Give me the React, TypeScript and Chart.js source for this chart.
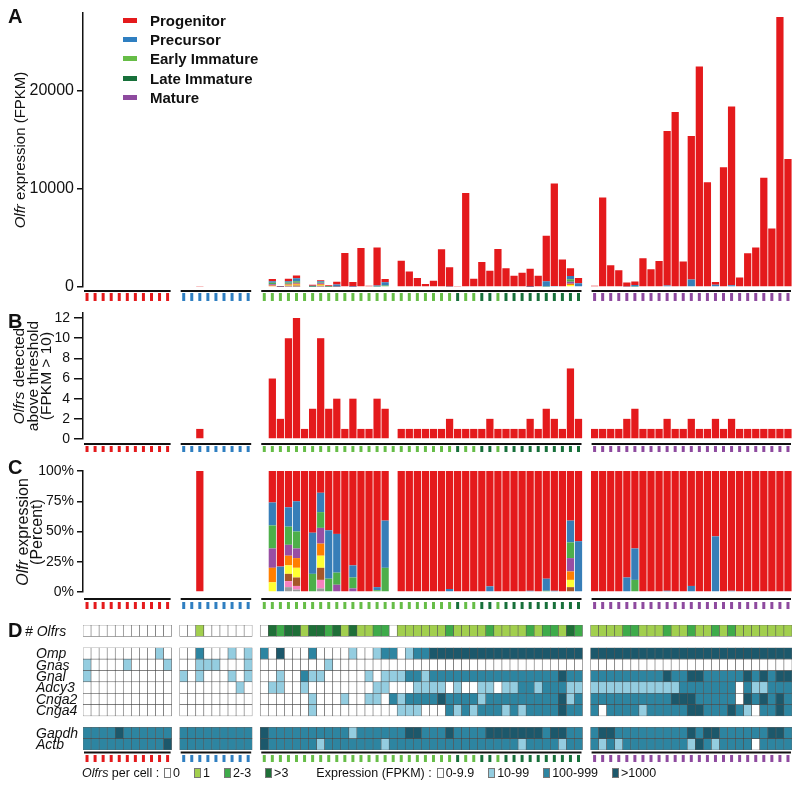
import React, { useEffect, useRef } from 'react';
import { Chart, registerables } from 'chart.js';

Chart.register(...registerables);

const FONT = '"Liberation Sans", Arial, Helvetica, sans-serif';
Chart.defaults.font.family = FONT;

// ---------- cell groups ----------
const GROUP_SIZES = [11, 9, 40, 25];
const CELL_TYPE_NAMES = ['Progenitor', 'Precursor', 'Early Immature', 'Late Immature', 'Mature'];
const CELL_TYPE_COLORS = ['#e41a1c', '#2f7fc1', '#66bd47', '#17703a', '#8e4a9f'];

// stage of each cell (index into CELL_TYPE_NAMES)
const cellStage = [
  0, 0, 0, 0, 0, 0, 0, 0, 0, 0, 0,
  1, 1, 1, 1, 1, 1, 1, 1, 1,
  2, 2, 2, 2, 2, 2, 2, 2, 2, 2, 2, 2, 2, 2, 2, 2, 2, 2, 2, 2,
  2, 2, 2, 2, 3, 2, 2, 3, 3, 2, 3, 3, 3, 3, 3, 3, 3, 3, 3, 3,
  4, 4, 4, 4, 4, 4, 4, 4, 4, 4, 4, 4, 4, 4, 4, 4, 4, 4, 4, 4, 4, 4, 4, 4, 4,
];

// ---------- panel A: total Olfr expression (FPKM) ----------
const olfrExpression = [
  0, 0, 0, 0, 0, 0, 0, 0, 0, 0, 0,
  0, 0, 60, 0, 0, 0, 0, 0, 0,
  0, 808, 100, 840, 1180, 80, 235, 700, 170, 540,
  3470, 505, 3970, 135, 4040, 808, 0, 2690, 1580, 910,
  300, 640, 3840, 2020, 60, 9600, 840, 2560, 1650, 3870,
  1920, 1145, 1450, 1850, 1145, 5220, 10570, 2800, 1920, 910,
  130, 9125, 2220, 1717, 470, 570, 2930, 1820, 2660, 15925,
  17845, 2590, 15420, 22490, 10700, 505, 12220, 18420, 976, 3434,
  4040, 11145, 5960, 27540, 13064,
];

// ---------- panel B: Olfrs detected above threshold ----------
const olfrsDetected = [
  0, 0, 0, 0, 0, 0, 0, 0, 0, 0, 0,
  0, 0, 1, 0, 0, 0, 0, 0, 0,
  0, 6, 2, 10, 12, 1, 3, 10, 3, 4,
  1, 4, 1, 1, 4, 3, 0, 1, 1, 1,
  1, 1, 1, 2, 1, 1, 1, 1, 2, 1,
  1, 1, 1, 2, 1, 3, 2, 1, 7, 2,
  1, 1, 1, 1, 2, 3, 1, 1, 1, 2,
  1, 1, 2, 1, 1, 2, 1, 2, 1, 1,
  1, 1, 1, 1, 1,
];

// ---------- panel C: share (%) of each detected Olfr, most abundant first ----------
const OLFR_COLORS = ['#e41a1c', '#377eb8', '#4daf4a', '#984ea3', '#ff7f00', '#ffff33', '#a65628', '#f781bf', '#999999'];
const olfrShares: number[][] = [
  [], [], [], [], [], [], [], [], [], [], [],
  [], [], [100], [], [], [], [], [], [],
  [], [26, 19, 19, 16, 12, 8], [79, 21], [30, 16, 15, 9, 8, 7, 6, 5, 4], [25, 25, 14, 8, 8, 8, 7, 3, 2],
  [100], [51, 34, 15], [18, 16, 13, 13, 10, 10, 10, 7, 3], [49, 40, 11], [52, 32, 10, 6],
  [100], [78, 10, 9, 3], [100], [100], [96, 2.5, 1.5], [41, 39, 20], [], [100], [100], [100],
  [100], [100], [100], [97.5, 2.5], [100], [100], [100], [100], [95.3, 4.7], [100],
  [100], [100], [100], [99, 1], [100], [89, 10, 1], [99, 1], [100], [41, 18, 13, 11, 7, 6, 4], [58, 42],
  [100], [100], [100], [100], [88, 12], [64, 26, 10], [100], [100], [100], [99, 1],
  [100], [100], [95, 5], [100], [100], [54, 46], [100], [99, 1], [100], [100],
  [100], [100], [100], [100], [100],
];

// ---------- panel D ----------
const OLFR_CLASS_LABELS = ['0', '1', '2-3', '>3'];
const OLFR_CLASS_COLORS = ['#ffffff', '#a2cf4e', '#3eab4a', '#1f6f38'];
const EXPR_LABELS = ['0-9.9', '10-99', '100-999', '>1000'];
const EXPR_COLORS = ['#ffffff', '#94cde0', '#2d85a1', '#1c586b'];

const olfrClass = [
  0, 0, 0, 0, 0, 0, 0, 0, 0, 0, 0,
  0, 0, 1, 0, 0, 0, 0, 0, 0,
  0, 3, 2, 3, 3, 1, 3, 3, 2, 3, 1, 3, 1, 1, 2, 2, 0, 1, 1, 1,
  1, 1, 1, 2, 1, 1, 1, 1, 2, 1, 1, 1, 1, 2, 1, 2, 2, 1, 3, 2,
  1, 1, 1, 1, 2, 2, 1, 1, 1, 2, 1, 1, 2, 1, 1, 2, 1, 2, 1, 1, 1, 1, 1, 1, 1,
];
const omp = [
  0, 0, 0, 0, 0, 0, 0, 0, 0, 1, 0,
  0, 0, 2, 0, 0, 0, 1, 0, 1,
  2, 0, 3, 0, 0, 0, 2, 0, 0, 0, 0, 1, 0, 0, 1, 2, 2, 0, 1, 2,
  2, 3, 3, 3, 3, 3, 3, 3, 3, 3, 3, 3, 3, 3, 3, 3, 3, 3, 3, 3,
  3, 3, 3, 3, 3, 3, 3, 3, 3, 3, 3, 3, 3, 3, 3, 3, 3, 3, 3, 3, 3, 3, 3, 3, 3,
];
const gnas = [
  1, 0, 0, 0, 0, 1, 0, 0, 0, 0, 1,
  0, 0, 1, 1, 1, 0, 0, 0, 1,
  0, 0, 0, 0, 0, 0, 0, 0, 1, 0, 0, 0, 0, 0, 0, 0, 0, 0, 0, 0,
  0, 0, 0, 0, 0, 0, 0, 0, 0, 0, 0, 0, 0, 0, 0, 0, 0, 0, 0, 0,
  0, 0, 0, 0, 0, 0, 0, 0, 0, 0, 0, 0, 0, 0, 0, 0, 0, 0, 0, 0, 0, 0, 0, 0, 0,
];
const gnal = [
  1, 0, 0, 0, 0, 0, 0, 0, 0, 0, 0,
  1, 0, 1, 0, 0, 0, 1, 0, 1,
  0, 0, 1, 0, 0, 2, 1, 1, 0, 0, 0, 0, 0, 1, 0, 1, 1, 1, 2, 2,
  1, 2, 2, 2, 2, 2, 2, 2, 2, 2, 2, 2, 2, 2, 2, 2, 2, 3, 2, 2,
  2, 2, 2, 2, 2, 2, 2, 2, 2, 3, 2, 2, 3, 3, 2, 2, 2, 2, 2, 3, 2, 3, 2, 3, 3,
];
const adcy3 = [
  0, 0, 0, 0, 0, 0, 0, 0, 0, 0, 0,
  0, 0, 0, 0, 0, 0, 0, 1, 0,
  0, 1, 1, 0, 0, 1, 0, 0, 0, 0, 0, 0, 0, 0, 1, 1, 0, 0, 0, 1,
  1, 1, 1, 0, 1, 0, 0, 1, 1, 0, 1, 1, 2, 2, 1, 2, 2, 2, 1, 1,
  1, 1, 1, 1, 1, 1, 1, 1, 1, 1, 1, 2, 2, 2, 2, 2, 2, 2, 0, 2, 1, 1, 2, 2, 2,
];
const cnga2 = [
  0, 0, 0, 0, 0, 0, 0, 0, 0, 0, 0,
  0, 0, 0, 0, 0, 0, 0, 0, 0,
  0, 0, 0, 0, 0, 0, 1, 0, 0, 0, 1, 0, 0, 1, 1, 0, 2, 1, 2, 2,
  2, 2, 3, 2, 2, 2, 2, 1, 2, 2, 2, 2, 2, 2, 2, 2, 2, 3, 1, 2,
  2, 2, 2, 2, 2, 2, 2, 2, 2, 2, 3, 3, 3, 2, 2, 2, 2, 2, 0, 3, 2, 3, 2, 3, 2,
];
const cnga4 = [
  0, 0, 0, 0, 0, 0, 0, 0, 0, 0, 0,
  0, 0, 0, 0, 0, 0, 0, 0, 0,
  0, 0, 0, 0, 0, 0, 1, 0, 0, 0, 0, 0, 0, 0, 0, 0, 0, 1, 1, 1,
  0, 0, 0, 2, 1, 2, 1, 2, 2, 2, 1, 2, 1, 2, 2, 2, 2, 3, 2, 2,
  2, 0, 2, 2, 2, 2, 1, 2, 2, 2, 2, 2, 3, 3, 2, 2, 2, 3, 2, 1, 0, 2, 2, 3, 2,
];
const gapdh = [
  2, 2, 2, 2, 3, 2, 2, 2, 2, 2, 2,
  2, 2, 2, 2, 2, 2, 2, 2, 2,
  3, 2, 2, 2, 2, 2, 2, 2, 2, 2, 2, 1, 2, 2, 2, 2, 2, 2, 3, 3,
  2, 2, 2, 3, 2, 2, 2, 2, 3, 3, 3, 3, 3, 3, 3, 2, 3, 3, 2, 2,
  2, 3, 3, 2, 2, 2, 2, 2, 2, 2, 2, 2, 3, 2, 3, 3, 2, 2, 2, 2, 2, 2, 3, 3, 2,
];
const actb = [
  2, 2, 2, 2, 2, 2, 2, 2, 2, 2, 3,
  2, 2, 2, 2, 2, 2, 2, 2, 2,
  3, 2, 2, 2, 2, 2, 2, 1, 2, 2, 2, 2, 2, 2, 2, 1, 2, 2, 2, 2,
  2, 2, 2, 2, 2, 2, 2, 2, 2, 2, 2, 2, 1, 2, 2, 2, 2, 1, 2, 2,
  2, 1, 2, 1, 2, 2, 2, 2, 2, 2, 2, 2, 1, 3, 2, 1, 2, 2, 2, 2, 0, 2, 2, 2, 2,
];

// rows of the heat map from top to bottom; null = spacer row
const HEAT_ROWS: ({ label: string; values: number[]; palette: string[] } | null)[] = [
  { label: '# Olfrs', values: olfrClass, palette: OLFR_CLASS_COLORS },
  null,
  { label: 'Omp', values: omp, palette: EXPR_COLORS },
  { label: 'Gnas', values: gnas, palette: EXPR_COLORS },
  { label: 'Gnal', values: gnal, palette: EXPR_COLORS },
  { label: 'Adcy3', values: adcy3, palette: EXPR_COLORS },
  { label: 'Cnga2', values: cnga2, palette: EXPR_COLORS },
  { label: 'Cnga4', values: cnga4, palette: EXPR_COLORS },
  null,
  { label: 'Gapdh', values: gapdh, palette: EXPR_COLORS },
  { label: 'Actb', values: actb, palette: EXPR_COLORS },
];

// ---------- helpers ----------
function toSlots<T>(values: T[]): (T | null)[] {
  const out: (T | null)[] = [];
  let k = 0;
  GROUP_SIZES.forEach((n, g) => {
    if (g > 0) out.push(null);
    for (let i = 0; i < n; i++) out.push(values[k++]);
  });
  return out;
}
const SLOT_LABELS = toSlots(cellStage).map((_, i) => String(i));
const cellSlots: number[] = (() => {
  const s: number[] = [];
  let slot = 0;
  GROUP_SIZES.forEach((n, g) => {
    if (g > 0) slot++;
    for (let i = 0; i < n; i++) s.push(slot++);
  });
  return s;
})();

function groupAxisPlugin(lineOff: number, tickFrom: number, tickTo: number) {
  return {
    id: 'groupAxis',
    afterDraw(chart: any) {
      const { ctx, chartArea } = chart;
      const x = chart.scales.x;
      const w = x.getPixelForValue(1) - x.getPixelForValue(0);
      const yl = chartArea.bottom + lineOff;
      ctx.save();
      let k = 0;
      GROUP_SIZES.forEach((n) => {
        const x0 = x.getPixelForValue(cellSlots[k]) - w / 2 + 1;
        const x1 = x.getPixelForValue(cellSlots[k + n - 1]) + w / 2 - 1;
        ctx.strokeStyle = '#111';
        ctx.lineWidth = 2;
        ctx.beginPath();
        ctx.moveTo(x0, yl);
        ctx.lineTo(x1, yl);
        ctx.stroke();
        for (let i = k; i < k + n; i++) {
          const cx = x.getPixelForValue(cellSlots[i]);
          ctx.strokeStyle = CELL_TYPE_COLORS[cellStage[i]];
          ctx.lineWidth = 3;
          ctx.beginPath();
          ctx.moveTo(cx, chartArea.bottom + tickFrom);
          ctx.lineTo(cx, chartArea.bottom + tickTo);
          ctx.stroke();
        }
        k += n;
      });
      ctx.restore();
    },
  };
}

const rowLabelPlugin = {
  id: 'rowLabels',
  afterDraw(chart: any) {
    const { ctx } = chart;
    const y = chart.scales.y;
    ctx.save();
    ctx.fillStyle = '#111';
    ctx.font = `italic 14px ${FONT}`;
    ctx.textAlign = 'left';
    ctx.textBaseline = 'middle';
    HEAT_ROWS.forEach((r, idx) => {
      if (!r) return;
      const base = HEAT_ROWS.length - 1 - idx;
      ctx.fillText(r.label, r.label === '# Olfrs' ? 25 : 36, y.getPixelForValue(base + 0.5) + 1);
    });
    ctx.restore();
  },
};

function yAxis(min: number, max: number, ticks: number[], size: number, fmt: (v: number) => string, stacked: boolean, tickLen = 6, pad = 3) {
  return {
    min,
    max,
    stacked,
    afterFit: (s: any) => { s.width = 83; },
    afterBuildTicks: (s: any) => { s.ticks = ticks.map((v) => ({ value: v })); },
    ticks: { font: { family: FONT, size }, color: '#111', padding: pad, callback: (v: any) => fmt(Number(v)) },
    grid: { drawOnChartArea: false, drawTicks: true, tickLength: tickLen, color: '#111', lineWidth: 1.5 },
    border: { display: true, color: '#111', width: 1.5 },
  };
}

function baseOptions(padTop: number, padBottom: number, y: any, padLeft = 0) {
  return {
    responsive: false,
    animation: false as const,
    devicePixelRatio: 1,
    layout: { padding: { top: padTop, bottom: padBottom, left: padLeft, right: 8 } },
    plugins: { legend: { display: false }, tooltip: { enabled: false } },
    scales: { x: { display: false, stacked: true }, y },
  };
}

function stackedShareDatasets(scale: (cell: number) => number) {
  const sets: any[] = [];
  for (let layer = OLFR_COLORS.length - 1; layer >= 0; layer--) {
    const vals = olfrShares.map((sh, cell) => (sh.length > layer ? (sh[layer] / 100) * scale(cell) : 0));
    sets.push({
      data: toSlots(vals),
      backgroundColor: OLFR_COLORS[layer],
      stack: 'olfr',
      barPercentage: 0.9,
      categoryPercentage: 1,
    });
  }
  return sets;
}

const W = 800;

export default function App() {
  const refA = useRef<HTMLCanvasElement>(null);
  const refB = useRef<HTMLCanvasElement>(null);
  const refC = useRef<HTMLCanvasElement>(null);
  const refD = useRef<HTMLCanvasElement>(null);

  useEffect(() => {
    const charts: Chart[] = [];

    // Panel A
    charts.push(new Chart(refA.current!, {
      type: 'bar',
      data: { labels: SLOT_LABELS, datasets: stackedShareDatasets((c) => olfrExpression[c]) },
      options: baseOptions(10, 23, yAxis(0, 28000, [0, 10000, 20000], 16, (v) => String(v), true)) as any,
      plugins: [groupAxisPlugin(4, 6, 14)],
    }));

    // Panel B
    charts.push(new Chart(refB.current!, {
      type: 'bar',
      data: {
        labels: SLOT_LABELS,
        datasets: [{ data: toSlots(olfrsDetected), backgroundColor: '#e41a1c', barPercentage: 0.9, categoryPercentage: 1 }],
      },
      options: baseOptions(13, 26, yAxis(0, 12.5, [0, 2, 4, 6, 8, 10, 12], 14, (v) => String(v), false, 9, 4)) as any,
      plugins: [groupAxisPlugin(5, 7, 13)],
    }));

    // Panel C
    charts.push(new Chart(refC.current!, {
      type: 'bar',
      data: { labels: SLOT_LABELS, datasets: stackedShareDatasets(() => 100) },
      options: baseOptions(16, 23, yAxis(0, 100, [0, 25, 50, 75, 100], 14, (v) => `${v}%`, true)) as any,
      plugins: [groupAxisPlugin(7, 10, 17)],
    }));

    // Panel D (heat map drawn as floating bars)
    const heatSets: any[] = [];
    HEAT_ROWS.forEach((r, idx) => {
      if (!r) return;
      const base = HEAT_ROWS.length - 1 - idx;
      const slots = toSlots(r.values);
      heatSets.push({
        data: slots.map((v) => (v == null ? null : [base, base + 1])),
        backgroundColor: slots.map((v) => (v == null ? 'rgba(0,0,0,0)' : r.palette[v])),
        borderColor: 'rgba(60,60,60,0.8)',
        borderWidth: 0.6,
        borderSkipped: false,
        grouped: false,
        barPercentage: 1,
        categoryPercentage: 1,
      });
    });
    charts.push(new Chart(refD.current!, {
      type: 'bar',
      data: { labels: SLOT_LABELS, datasets: heatSets },
      options: {
        ...baseOptions(10, 43, { display: false, min: 0, max: HEAT_ROWS.length }, 83),
        scales: { x: { display: false }, y: { display: false, min: 0, max: HEAT_ROWS.length } },
      } as any,
      plugins: [groupAxisPlugin(2.5, 5, 12), rowLabelPlugin],
    }));

    return () => charts.forEach((c) => c.destroy());
  }, []);

  const txt: React.CSSProperties = { position: 'absolute', fontFamily: FONT, color: '#111', whiteSpace: 'nowrap' };
  const rot = (cx: number, cy: number, size: number, lh = 14): React.CSSProperties => ({
    ...txt,
    left: cx,
    top: cy,
    fontSize: size,
    lineHeight: `${lh}px`,
    textAlign: 'center',
    transform: 'translate(-50%, -50%) rotate(-90deg)',
  });
  const letter = (top: number): React.CSSProperties => ({ ...txt, left: 8, top, fontSize: 20, fontWeight: 'bold', lineHeight: '20px' });
  const box = (color: string): React.CSSProperties => ({
    display: 'inline-block', width: 5, height: 8, background: color, border: '1px solid #777',
    marginRight: 2, verticalAlign: '-1px',
  });

  return (
    <div style={{ position: 'absolute', left: 0, top: 0, width: W, height: 793, background: '#fff', overflow: 'hidden' }}>
      <canvas ref={refA} width={W} height={310} style={{ position: 'absolute', left: 0, top: 0 }} />
      <canvas ref={refB} width={W} height={165} style={{ position: 'absolute', left: 0, top: 300 }} />
      <canvas ref={refC} width={W} height={160} style={{ position: 'absolute', left: 0, top: 455 }} />
      <canvas ref={refD} width={W} height={178} style={{ position: 'absolute', left: 0, top: 615 }} />

      <div style={letter(6)}>A</div>
      <div style={letter(311)}>B</div>
      <div style={letter(457)}>C</div>
      <div style={letter(620)}>D</div>

      {/* legend of panel A */}
      {CELL_TYPE_NAMES.map((name, i) => (
        <React.Fragment key={name}>
          <div style={{ position: 'absolute', left: 123, top: 18 + i * 19.2, width: 14, height: 5, background: CELL_TYPE_COLORS[i] }} />
          <div style={{ ...txt, left: 150, top: 11 + i * 19.2, fontSize: 15, fontWeight: 'bold', lineHeight: '20px' }}>{name}</div>
        </React.Fragment>
      ))}

      {/* axis titles */}
      <div style={rot(20, 150, 15)}><i>Olfr</i> expression (FPKM)</div>
      <div style={rot(32, 376, 15.5, 13.5)}><i>Olfrs</i> detected<br />above threshold<br />(FPKM &gt; 10)</div>
      <div style={rot(30, 532, 16, 14)}><i>Olfr</i> expression<br />(Percent)</div>

      {/* bottom legend */}
      <div style={{ ...txt, left: 82, top: 765, fontSize: 12.5, lineHeight: '16px', display: 'flex', alignItems: 'center' }}>
        <span><i>Olfrs</i> per cell :</span>
        {OLFR_CLASS_LABELS.map((l, i) => (
          <span key={l} style={{ marginLeft: i === 0 ? 5 : 14 }}><span style={box(OLFR_CLASS_COLORS[i])} />{l}</span>
        ))}
        <span style={{ marginLeft: 28 }}>Expression (FPKM) :</span>
        {EXPR_LABELS.map((l, i) => (
          <span key={l} style={{ marginLeft: i === 0 ? 5 : 14 }}><span style={box(EXPR_COLORS[i])} />{l}</span>
        ))}
      </div>
    </div>
  );
}
